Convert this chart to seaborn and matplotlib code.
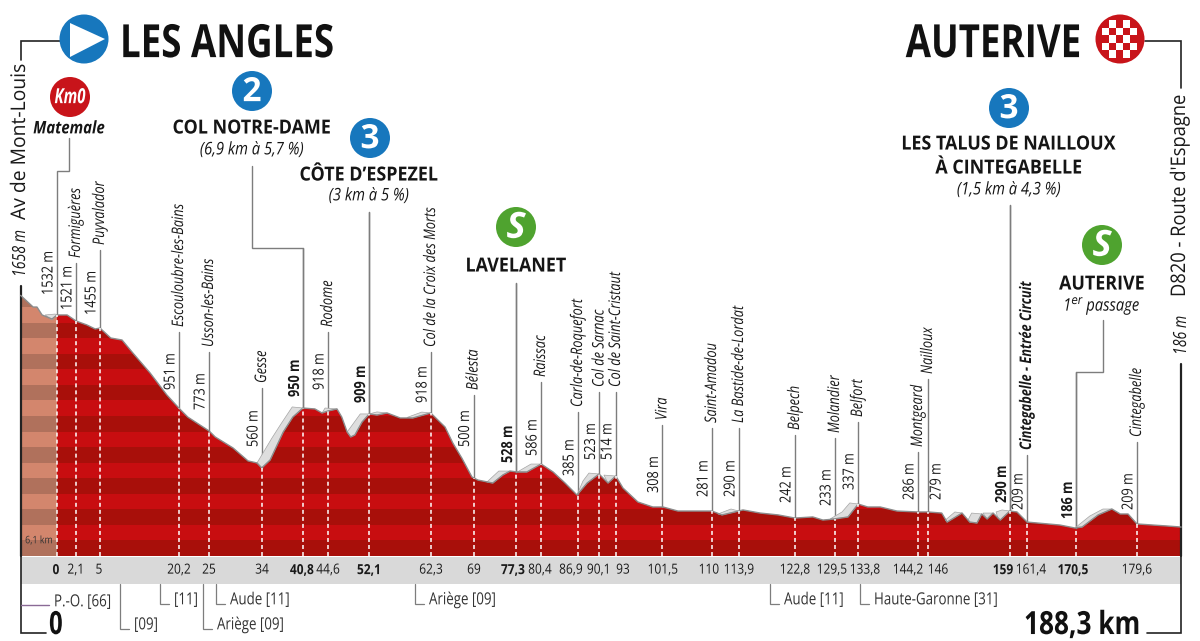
import numpy as np
import pandas as pd
import seaborn as sns
import matplotlib
matplotlib.use("Agg")
import matplotlib.pyplot as plt
from matplotlib.patches import Circle, Polygon, Rectangle
from matplotlib.patheffects import AbstractPathEffect
from matplotlib.transforms import Affine2D

# ---------- data ----------
profile_km = [-6.1,-4.0,-3.35,-2.5,-0.84,0,1.7,3.2,5.0,6.4,7.2,9.0,10.9,12.7,15.6,18.4,20.4,21.9,25.5,26.5,29.5,32.0,33.5,34.3,35.7,37.9,39.5,41.2,43.2,44.4,45.4,46.9,47.7,48.6,49.2,49.9,51.1,52.3,53.6,55.3,57.5,59.6,62.6,65.0,66.3,67.8,69.5,70.5,73.0,74.7,75.9,77.1,78.7,81.1,83.1,85.1,87.1,88.8,90.8,92.3,93.6,94.8,97.3,99.8,101.5,104.0,109.7,111.4,114.2,114.9,117.8,120.8,123.6,126.6,128.3,130.3,132.5,134.2,135.8,137.9,140.7,144.2,145.9,148.2,149.1,151.6,152.9,154.1,154.9,155.8,156.8,158.0,159.6,160.8,162.5,168.0,170.5,171.7,174.4,176.7,178.1,179.4,180.9,185.9,188.3]
profile_m = [1675,1600,1600,1549,1523,1549,1549,1510,1485,1459,1465,1401,1388,1305,1176,1035,951,893,803,765,694,611,598,566,617,797,893,951,945,919,932,945,893,797,765,778,861,913,906,919,887,887,919,829,726,630,508,488,469,521,546,540,540,591,540,469,392,469,527,469,514,437,347,315,315,289,289,264,289,296,276,264,244,251,231,238,251,334,315,315,289,283,283,276,218,276,218,212,270,238,276,231,289,283,218,199,180,186,264,302,270,270,206,193,186]

shade_km = [[-2.0,-0.3,0,-0.84],[33.5,34.3,35.7,37.9,39.5,41.2,39.4,37.4,36.0,34.3],[44.4,45.4,46.9,44.9],[48.6,49.2,49.9,51.1,52.3,50.8],[52.3,53.6,55.3,53.6],[58.6,59.6,62.6,61.1],[72.0,73.0,74.7,75.9,74.0],[77.1,78.7,81.1,79.4],[87.1,88.8,90.8,89.1,88.1],[91.6,92.3,93.6],[110.7,111.4,114.2,112.9],[129.5,132.5,134.2,132.8,131.5],[148.8,149.1,151.6,150.4],[152.6,152.9,154.1,154.9,153.2],[155.1,155.8,156.8],[157.6,158.0,159.6,158.3,157.3],[170.7,171.7,174.4,176.7,175.2,173.0]]
shade_m = [[1549,1555,1549,1517],[598,566,617,797,893,951,958,842,758,649],[919,932,945,951],[797,765,778,861,913,913],[913,906,919,926],[890,887,919,925],[475,469,521,546,546],[540,540,591,591],[392,469,527,533,482],[520,469,514],[270,264,289,302],[238,251,334,341,283],[231,218,276,283],[231,218,212,270,276],[276,238,276],[244,231,289,296,283],[186,186,264,302,302,257]]

wp_km = [0,3.18,7.2,20.44,25.46,34.34,41.2,45.4,52.26,62.65,69.77,76.9,81.07,87.27,90.87,93.63,101.42,109.72,114.24,123.62,130.32,134.17,144.22,145.9,159.63,162.48,170.69,180.9]
wp_names = ["","Formiguères","Puyvalador","Escouloubre-les-Bains","Usson-les-Bains","Gesse","","Rodome","","Col de la Croix des Morts","Bélesta","","Raissac","Carla-de-Roquefort","Col de Sarnac","Col de Saint-Cristaut","Vira","Saint-Amadou","La Bastide-de-Lordat","Belpech","Molandier","Belfort","Montgeard","Nailloux","","Cintegabelle - Entrée Circuit","","Cintegabelle"]
wp_alts = ["1532 m","1521 m","1455 m","951 m","773 m","560 m","950 m","918 m","909 m","918 m","500 m","528 m","586 m","385 m","523 m","514 m","308 m","281 m","290 m","242 m","233 m","337 m","286 m","279 m","290 m","209 m","186 m","209 m"]
km_labels = ["0","2,1","5","20,2","25","34","40,8","44,6","52,1","62,3","69","77,3","80,4","86,9","90,1","93","101,5","110","113,9","122,8","129,5","133,8","144,2","146","159","161,4","170,5","179,6"]
km_bold = ["0","40,8","52,1","77,3","159","170,5"]

# ---------- layout (pixels of the 1200x641 frame) ----------
W, H = 1200, 641
PX_KM, X0 = 5.97, 57
PX_M, Y0 = 0.1556, 556
wp_top = [171,263,250,332,352,388,248,332,212,352,395,283,382,412,392,392,425,428,428,435,438,422,452,379,205,455,372,442]
alt_bottom = [295,310,315,390,410,447,397,390,403,403,447,463,456,476,460,460,493,497,497,503,506,490,500,500,503,510,519,510]
km_label_x = [56,76,99,179,209,262,302,328,369,431,474,513,540,571,599,623,663,709,739,795,832,865,908,938,1003,1031,1073,1137]

sns.set_theme(style="white")
plt.rcParams["font.family"] = ["Open Sans", "DejaVu Sans"]


class Condense(AbstractPathEffect):
    """Narrows a text's glyphs along its own direction (no condensed face is installed)."""
    def __init__(self, sx, frac=0.0):
        super().__init__()
        self.sx, self.frac = sx, frac

    def draw_path(self, renderer, gc, tpath, affine, rgbFace=None):
        w = tpath.get_extents().x1
        tr = Affine2D().scale(self.sx, 1).translate(self.frac*(1-self.sx)*w, 0)
        renderer.draw_path(gc, tpath, tr + affine, rgbFace)


fig = plt.figure(figsize=(W/100, H/100), dpi=100, facecolor="white")
ax = fig.add_axes([0, 0, 1, 1])
ax.axis("off")
P = Affine2D().scale(1/W, -1/H).translate(0, 1) + fig.transFigure
kx = lambda km: X0 + PX_KM*km

FRAC = {"left": 0.0, "center": 0.5, "right": 1.0}
def T(x, y, s, sx=0.8, ha="center", va="center", rot=0, fs=11, color="#1a1a1a", z=8, **k):
    frac = 0.0 if rot else FRAC[ha]
    if va == "center":
        y = y + fs*0.11
    return ax.text(x, y, s, transform=P, ha=ha, va=va, rotation=rot, fontsize=fs, color=color, zorder=z,
                   path_effects=[Condense(sx, frac)], **k)

DARK, LIGHT = "#a80f0a", "#c80d10"
SDARK, SLIGHT = "#b0715c", "#d3866d"

# profile polygon and clipped altitude bands
df = pd.DataFrame({"km": profile_km, "alt": profile_m})
poly_xy = [(profile_km[0], 0)] + list(zip(profile_km, profile_m)) + [(profile_km[-1], 0)]
poly = Polygon(poly_xy, closed=True, facecolor="none", edgecolor="none", transform=ax.transData)
ax.add_patch(poly)
for i in range(0, 17):
    for l, r, c in ((-6.1, 0, SDARK if i % 2 == 0 else SLIGHT), (0, 188.3, DARK if i % 2 == 0 else LIGHT)):
        b = ax.barh(i*100, r-l, height=100, left=l, align="edge", color=c, linewidth=0)[0]
        b.set_clip_path(poly)

# grey climb shading
for xs, ys in zip(shade_km, shade_m):
    ax.add_patch(Polygon(list(zip(xs, ys)), closed=True, facecolor="#dedede", edgecolor="#a5a5a5", linewidth=0.5, zorder=3))

sns.lineplot(data=df, x="km", y="alt", ax=ax, sort=False, estimator=None, color="#8c8c8c", linewidth=1.0, zorder=4, legend=False)
ax.set_xlim((0-X0)/PX_KM, (W-X0)/PX_KM)
ax.set_ylim((Y0-H)/PX_M, Y0/PX_M)
ax.axis("off")

# waypoints
LC = "#7d7d7d"
for i, km in enumerate(wp_km):
    x = kx(km)
    elev = np.interp(km, profile_km, profile_m)
    ax.plot([km, km], [0, elev], color="white", lw=1.1, ls=(0, (2.6, 2.0)), zorder=5)
    ytop_line = Y0 - elev*PX_M
    bold = wp_alts[i] in ("950 m","909 m","528 m","186 m") or (wp_alts[i] == "290 m" and i == 24)
    if i != 0:
        ax.plot([x, x], [ytop_line, wp_top[i]], color=LC, lw=1.0, transform=P, zorder=2)
    ax_x = x + 9 if wp_names[i] == "Nailloux" else x - 8
    T(ax_x, alt_bottom[i], wp_alts[i], sx=0.83, rot=90, va="bottom", fs=11,
      fontweight="bold" if bold else "normal")
    if wp_names[i]:
        T(x, wp_top[i]-5, wp_names[i], sx=0.8, rot=90, va="bottom", fs=11.5, style="italic",
          fontweight="bold" if wp_names[i].endswith("Circuit") else "normal")

# leader lines with elbows
def path(xs, ys, c=LC, lw=1.0):
    ax.plot(xs, ys, color=c, lw=lw, transform=P, zorder=2, solid_joinstyle="miter")

path([57,57,69,69],[315,171,171,138])
path([303,303,252,252],[408,248,248,166])
path([369,369],[414,212])
path([516,516],[472,283])
path([1010,1010],[511,205])
path([1076,1076,1103,1103],[528,372,372,320])

# kilometre strip
ax.add_patch(Rectangle((21,557),1160,27,transform=P,facecolor="#d9d9d9",edgecolor="none",zorder=1))
for t, x in zip(km_labels, km_label_x):
    T(x, 569, t, sx=0.86, fs=10, fontweight="bold" if t in km_bold else "normal")
T(39, 540, "6,1 km", sx=0.85, fs=7.5, color="#333333")

# frame lines
BL = "#222222"
path([21,21,60],[60,41,41],BL,1.2)
path([21,21],[286,556],BL,1.6)
path([21,21,46],[556,633,633],BL,1.2)
path([1145,1181,1181],[41,41,88],BL,1.2)
path([1181,1181],[364,556],BL,1.6)
path([1181,1181,1147],[556,633,633],BL,1.2)
path([21,49],[605,605],"#8a6a96",1.0)

T(20,277,"1658 m",sx=0.78,rot=90,va="bottom",fs=13,style="italic")
T(20,220,"Av de Mont-Louis",sx=0.96,rot=90,va="bottom",fs=14.5)
T(1181,355,"186 m",sx=0.78,rot=90,va="bottom",fs=13,style="italic")
T(1180,297,"D820 - Route d'Espagne",sx=0.91,rot=90,va="bottom",fs=14.5)

# headings
T(120,41,"LES ANGLES",sx=0.8,ha="left",fs=33,fontweight="bold",color="#111111")
T(1082,41,"AUTERIVE",sx=0.8,ha="right",fs=33,fontweight="bold",color="#111111")
T(56,623,"0",sx=0.75,fs=23,fontweight="bold",color="#111111")
T(1141,623,"188,3 km",sx=0.82,ha="right",fs=23,fontweight="bold",color="#111111")
T(54,601,"P.-O. [66]",sx=0.8,ha="left",fs=12,color="#333333")

def head(x,y,t,fs=14,sx=0.92,**k):
    T(x,y,t,sx=sx,fs=fs,color="#151515",**k)
head(69,127,"Matemale",12.5,0.86,fontweight="bold",style="italic")
head(252,127,"COL NOTRE-DAME",fontweight="bold")
head(252,149,"(6,9 km à 5,7 %)",12.5,0.85,style="italic")
head(369,174,"CÔTE D’ESPEZEL",fontweight="bold")
head(369,195,"(3 km à 5 %)",12.5,0.85,style="italic")
head(516,265,"LAVELANET",fontweight="bold")
head(1009,143,"LES TALUS DE NAILLOUX",fontweight="bold")
head(1009,167,"À CINTEGABELLE",fontweight="bold")
head(1009,189,"(1,5 km à 4,3 %)",12.5,0.85,style="italic")
head(1102,283,"AUTERIVE",fontweight="bold")
head(1102,304,"1$^{er}$ passage",12.5,0.85,style="italic")

# department brackets
dept = [(120,629,"[09]"),(160,604,"[11]"),(203,629,"Ariège [09]"),(216,604,"Aude [11]"),
        (415,604,"Ariège [09]"),(770,604,"Aude [11]"),(860,604,"Haute-Garonne [31]")]
for x,y,t in dept:
    path([x,x,x+9],[584,y,y],"#7d7d7d",0.9)
    T(x+14,y-5,t,sx=0.8,ha="left",fs=12,color="#333333")

# icons
BLUE, RED, GREEN = "#1777bd", "#c8141a", "#4fa32f"
def badge(x,y,r,c,t=None,fs=22,sx=1.0,**k):
    ax.add_patch(Circle((x,y),r,transform=P,facecolor=c,edgecolor="none",zorder=6))
    if t:
        T(x,y-1,t,sx=sx,fs=fs,color="white",fontweight="bold",**k)
badge(84,39,24.5,BLUE)
ax.add_patch(Polygon([(70,23),(70,57),(105,39)],closed=True,transform=P,facecolor="white",edgecolor="none",zorder=7))
badge(70,97,20,RED,"Km0",15,0.72,style="italic")
badge(252,91,20,BLUE,"2",24)
badge(370,138,20,BLUE,"3",24)
badge(1009,108,20,BLUE,"3",24)
badge(516,227,20,GREEN,"S",26,style="italic")
badge(1102,245,20,GREEN,"S",26,style="italic")
badge(1120,39,24.5,RED)
for r in range(5):
    for c in range(5):
        if (r+c)%2==1:
            ax.add_patch(Rectangle((1102+c*7,20+r*7.6),7,7.6,transform=P,
                                   facecolor="white",edgecolor="none",zorder=7))

fig.savefig("out.png", dpi=100)
